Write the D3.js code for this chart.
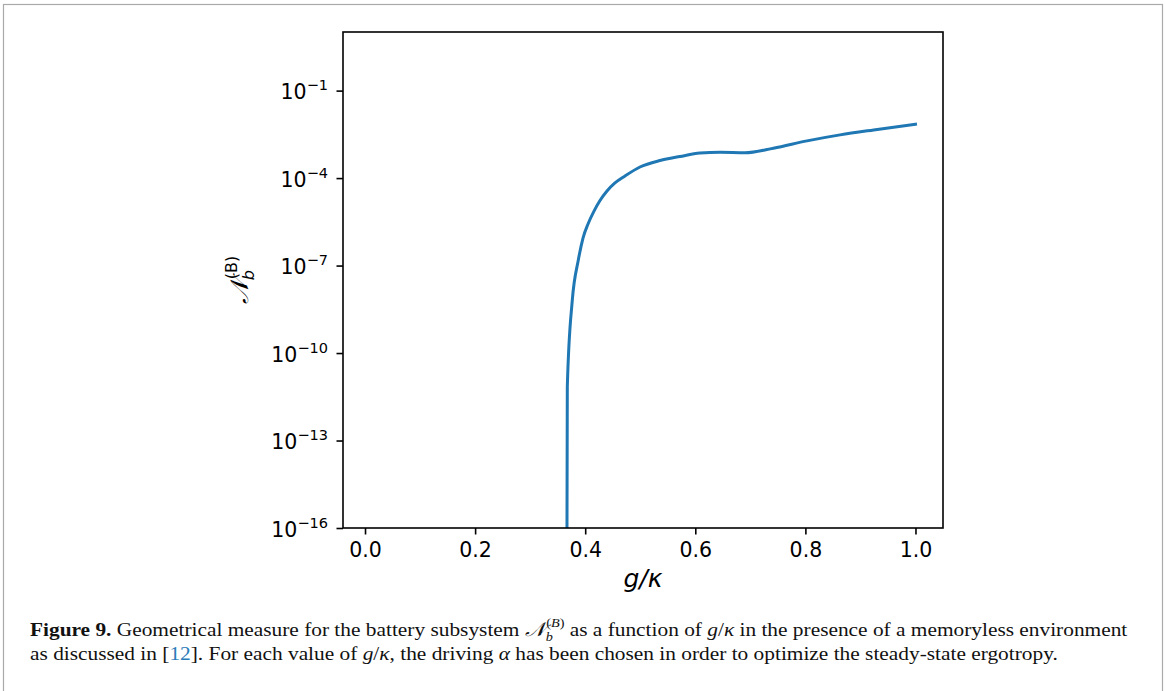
<!DOCTYPE html>
<html lang="en">
<head>
<meta charset="utf-8">
<title>Figure 9</title>
<script src="https://d3js.org/d3.v7.min.js"></script>
<style>
  body { margin: 0; background: #fff; }
  .tick text { font-family: "DejaVu Sans", sans-serif; font-size: 20.5px; fill: #000; }
  .tick line { stroke: #000; stroke-width: 1.6px; }
  .cap { font-family: "Liberation Serif", "DejaVu Serif", serif; font-size: 19.5px; fill: #111; }
</style>
</head>
<body>
<svg id="chart" width="1165" height="691"></svg>
<script>
// values
const gKappa = [0.3664, 0.3675, 0.3766, 0.3875, 0.396, 0.4051, 0.416, 0.4269, 0.4396, 0.4541, 0.4723,
                0.4995, 0.5358, 0.5722, 0.6085, 0.6449, 0.6903, 0.742, 0.803, 0.863, 0.924, 1.0];
const nbB = [1e-20, 7.0e-12, 6.6e-9, 1.55e-7, 8.8e-7, 2.66e-6, 7.4e-6, 1.70e-5, 3.6e-5, 6.8e-5, 1.18e-4,
             2.40e-4, 4.0e-4, 5.5e-4, 7.2e-4, 7.65e-4, 7.4e-4, 1.06e-3, 1.89e-3, 3.03e-3, 4.49e-3, 7.06e-3];
const xTicks = [0, 0.2, 0.4, 0.6, 0.8, 1.0];
const yExp = [-16, -13, -10, -7, -4, -1];

const svg = d3.select("#chart");
const pLeft = 343, pRight = 943, pTop = 32, pBottom = 528;

// frame around the whole figure
svg.append("rect")
  .attr("x", 3.5).attr("y", 4.5).attr("width", 1159).attr("height", 720)
  .attr("fill", "none").attr("stroke", "#aaa").attr("stroke-width", 1.2);

let x = d3.scaleLinear().domain([-0.04, 1.05]).range([pLeft, pRight]);
let y = d3.scaleLog().domain([1e-16, Math.pow(10, 1.01)]).range([pBottom, pTop]);

svg.append("clipPath").attr("id", "plotArea")
  .append("rect").attr("x", pLeft).attr("y", pTop)
  .attr("width", pRight - pLeft).attr("height", pBottom - pTop);

let line = d3.line()
  .x((d, i) => x(gKappa[i]))
  .y((d, i) => y(nbB[i]))
  .curve(d3.curveMonotoneX);

svg.append("path")
  .datum(nbB)
  .attr("clip-path", "url(#plotArea)")
  .attr("d", line)
  .attr("fill", "none")
  .attr("stroke", "#1f77b4")
  .attr("stroke-width", 3)
  .attr("stroke-linecap", "square");

// x axis
let xAxis = svg.append("g")
  .attr("transform", "translate(0," + pBottom + ")")
  .call(d3.axisBottom(x).tickValues(xTicks).tickSize(6.5).tickPadding(8)
        .tickFormat(d3.format(".1f")));
xAxis.select(".domain").remove();

// y axis, labels drawn by hand for the superscripts
let yAxis = svg.append("g")
  .attr("transform", "translate(" + pLeft + ",0)")
  .call(d3.axisLeft(y).tickValues(yExp.map(e => Math.pow(10, e))).tickSize(6.5).tickFormat(""));
yAxis.select(".domain").remove();

yExp.forEach(e => {
  let t = svg.append("text")
    .attr("class", "ylab")
    .attr("x", 328)
    .attr("y", y(Math.pow(10, e)) + 8.5)
    .attr("text-anchor", "end")
    .style("font-family", "DejaVu Sans, sans-serif")
    .style("font-size", "20.5px");
  t.append("tspan").text("10");
  t.append("tspan").attr("dy", -9).style("font-size", "14.5px").text("\u2212" + Math.abs(e));
});

// spines
svg.append("rect")
  .attr("x", pLeft).attr("y", pTop)
  .attr("width", pRight - pLeft).attr("height", pBottom - pTop)
  .attr("fill", "none").attr("stroke", "#000").attr("stroke-width", 1.6);

// axis titles
let xl = svg.append("text")
  .attr("x", (pLeft + pRight) / 2).attr("y", 587)
  .attr("text-anchor", "middle")
  .style("font-family", "DejaVu Sans, sans-serif")
  .style("font-size", "25px")
  .style("font-style", "italic");
xl.append("tspan").text("g/\u03ba");

let yl = svg.append("text")
  .attr("transform", "translate(248,280) rotate(-90)")
  .attr("text-anchor", "middle")
  .style("font-family", "DejaVu Serif, serif")
  .style("font-size", "25px");
yl.append("tspan").style("font-style", "italic").text("\ud835\udca9");
yl.append("tspan").attr("dy", 6).style("font-size", "16px").style("font-style", "italic")
  .style("font-family", "DejaVu Sans, sans-serif").text("b");
yl.append("tspan").attr("dx", -9).attr("dy", -17).style("font-size", "16px")
  .style("font-family", "DejaVu Sans, sans-serif").text("(B)");

// caption: first line fills the width, second line uses the same squeeze
let capScale = 1;
function capLine(yPos, target, build) {
  let t = svg.append("text").attr("class", "cap");
  build(t);
  if (target) capScale = target / t.node().getComputedTextLength();
  t.attr("transform", "translate(30," + yPos + ") scale(" + capScale + ",1)");
}

capLine(636, 1105, t => {
  t.append("tspan").style("font-weight", "bold").text("Figure 9.");
  t.append("tspan").text(" Geometrical measure for the battery subsystem ");
  t.append("tspan").style("font-style", "italic").text("\ud835\udca9");
  t.append("tspan").attr("dy", 5).style("font-size", "13px").style("font-style", "italic").text("b");
  t.append("tspan").attr("dx", -6).attr("dy", -14).style("font-size", "13px").text("(");
  t.append("tspan").style("font-size", "13px").style("font-style", "italic").text("B");
  t.append("tspan").style("font-size", "13px").text(")");
  t.append("tspan").attr("dy", 9).text(" as a function of ");
  t.append("tspan").style("font-style", "italic").text("g");
  t.append("tspan").text("/");
  t.append("tspan").style("font-style", "italic").text("\u03ba");
  t.append("tspan").text(" in the presence of a memoryless environment");
});

capLine(660, null, t => {
  t.append("tspan").text("as discussed in [");
  t.append("tspan").style("fill", "#2b7bb9").text("12");
  t.append("tspan").text("]. For each value of ");
  t.append("tspan").style("font-style", "italic").text("g");
  t.append("tspan").text("/");
  t.append("tspan").style("font-style", "italic").text("\u03ba");
  t.append("tspan").text(", the driving ");
  t.append("tspan").style("font-style", "italic").text("\u03b1");
  t.append("tspan").text(" has been chosen in order to optimize the steady-state ergotropy.");
});
</script>
</body>
</html>
